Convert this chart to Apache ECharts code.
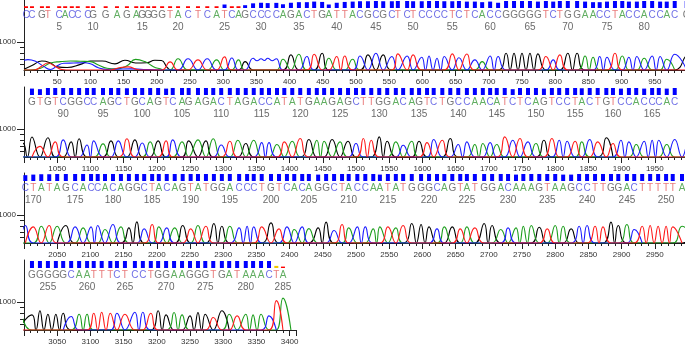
<!DOCTYPE html>
<html><head><meta charset="utf-8">
<script src="https://cdn.jsdelivr.net/npm/echarts@6/dist/echarts.min.js"></script>
<style>html,body{margin:0;padding:0;background:#fff}#c{width:685px;height:345px}</style>
</head><body><div id="c"></div>
<script>
// ---------- DATA ----------
const sequence = [
  "CCGTCACCCG","GAGAGGGGTA","CTCATCAGCC","CCAGACTGAT","TACGCGCTCT","CCCCTCTCAC","CGGGGGTCTG","GAACCTACCA","CCACG",
  "GTGTC","GGCCAGCTGC","AGTCAGAGAC","TAGACCATAT","GAAGAGCTTG","GACAGTCTGC","CAACATCTCA","GTCCTACTGT","CCACCCAC",
  "CT","ATAGCACCAC","AGGCTACAGT","ATGGACCCTG","TCACAGGCTA","CCAATATGGG","CAGTATGGAC","AAAGTAAGCC","TTGGACTTTT","TA",
  "GGGGGCAA","TTTCTCCTGG","AAGGGTGATA","AACTA"
].join("");

// scan position of each called base (peak centre)
const peakScan = [
  3,12,27,36,53,62,72,81,96,104, 123,140,155,169,178,187,196,208,220,232,
  247,262,276,290,302,313,323,333,345,357, 367,380,390,402,414,426,437,449,459,471,
  483,495,506,518,530,541,554,563,577,586, 599,610,622,633,645,655,667,679,690,702,
  714,726,738,750,762,774,786,797,807,819, 833,845,857,867,878,890,901,911,923,934,
  946,958,968,980,998,
  1012,1024,1036,1047,1059,1071,1083,1095,1105,1119, 1131,1142,1155,1167,1178,1190,1202,1214,1224,1238,
  1248,1262,1274,1285,1297,1310,1322,1334,1346,1358, 1369,1381,1392,1404,1416,1429,1441,1452,1464,1476,
  1488,1500,1511,1523,1535,1547,1560,1571,1584,1595, 1607,1617,1630,1642,1654,1667,1679,1691,1702,1712,
  1724,1736,1747,1759,1771,1783,1795,1806,1818,1830, 1840,1852,1864,1877,1887,1899,1911,1922,1934,1946,
  1956,1968,1980,
  2002,2014, 2026,2038,2050,2063,2077,2089,2101,2111,2122,2134, 2146,2158,2170,2181,2193,2203,2215,2227,2239,2251,
  2262,2274,2286,2298,2310,2324,2336,2346,2358,2372, 2384,2396,2407,2419,2429,2443,2455,2467,2479,2489,
  2502,2514,2526,2536,2548,2560,2571,2584,2598,2610, 2622,2633,2645,2657,2667,2679,2693,2705,2718,2729,
  2741,2752,2764,2776,2788,2800,2812,2824,2836,2848, 2860,2872,2884,2895,2908,2919,2931,2943,2955,2967,
  2977,2991,
  3012,3024,3036,3048,3059,3071,3083,3095, 3105,3117,3130,3140,3152,3167,3179,3191,3202,3214,
  3226,3238,3250,3262,3273,3285,3298,3309,3321,3334, 3345,3357,3369,3380,3390
];

// peak height of each base (signal units); null = drawn from the early (noisy) traces
const peakHeight = [
  null,null,null,null,null,null,null,null,null,null, null,null,null,null,null,null,null,null,290,400,
  400,360,400,360,470,430,360,300,420,400, 420,400,385,540,565,480,565,600,420,480,
  500,385,500,540,600,540,480,575,500,540, 455,500,420,480,575,440,570,360,300,500,
  480,600,600,600,600,575,480,360,540,600, 600,500,455,480,455,600,500,455,480,420,
  500,480,385,565,500,
  715,380,690,540,610,540,650,430,575,470, 575,575,650,610,500,540,575,575,610,540,
  575,610,575,650,430,560,600,480,600,515, 515,445,540,565,660,625,600,565,625,540,
  565,480,660,600,720,565,540,420,565,565, 515,625,600,660,445,540,445,480,515,445,
  720,600,660,540,480,600,660,600,565,565, 540,625,540,685,480,600,540,445,565,600,
  600,445,625,
  625,575, 600,625,600,625,575,540,575,625,480,660, 575,540,755,505,660,575,540,540,625,505,
  625,600,695,600,600,540,600,575,575,720, 505,575,480,575,515,540,745,445,660,540,
  575,575,505,575,575,540,625,695,660,575, 505,575,575,505,575,540,695,625,480,540,
  540,600,625,565,505,625,600,505,600,625, 600,575,745,625,660,480,600,625,600,600,
  575,600,
  540,685,565,565,600,480,565,565, 600,635,600,600,565,635,635,600,685,540,
  625,540,505,625,565,445,685,565,505,565, 540,565,505,1050,1140
];

// quality value of each base
const quality = [
  15,15,15,15,15,15,15,15,15,15, 15,15,15,15,15,15,15,15,15,15,
  15,15,15,15,30,15,15,24,40,45, 42,44,32,45,50,50,55,52,30,45,
  52,55,58,58,60,58,58,60,60,58, 58,60,60,58,58,60,55,55,50,55,
  45,60,60,60,60,55,60,55,60,60, 60,55,50,50,55,60,60,55,55,60,
  60,55,55,60,60,
  55,50,60,60,60,60,60,60,60,60, 60,60,58,60,60,60,60,55,60,60,
  60,60,60,60,60,60,60,60,60,60, 60,60,60,60,60,60,60,60,60,60,
  60,60,60,60,60,60,60,60,60,60, 60,60,60,60,60,60,60,60,60,60,
  60,50,60,60,60,55,60,60,60,60, 58,60,60,60,60,55,60,60,55,60,
  60,55,60,
  50,55, 58,58,60,60,60,60,60,60,60,60, 60,60,60,60,60,60,60,60,60,60,
  60,60,60,60,60,60,60,60,60,60, 60,60,60,60,60,55,60,60,60,60,
  60,60,60,55,60,60,60,60,60,60, 60,60,60,60,60,60,60,60,60,60,
  55,60,60,60,60,60,55,55,60,60, 60,60,60,60,60,60,60,60,60,60,
  60,60,
  60,60,60,60,60,60,60,60, 60,60,60,60,60,60,60,60,60,60,
  60,60,60,60,60,60,60,60,60,60, 60,60,60,18,12
];

// trace level between two adjacent same-colour peaks (key = base number of the second peak)
const valleyBefore = {30: 330, 31: 340, 32: 330};

// early, poorly resolved part of the read: [scan, signal]
const earlyA = [[0,0],[10,0],[25,60],[40,250],[55,300],[70,320],[85,310],[100,300],[112,180],[125,60],[138,40],[155,150],[168,380],[182,300],[195,120],[205,40],[212,0]];
const earlyC = [[0,350],[6,370],[18,300],[30,120],[40,20],[50,150],[60,240],[75,250],[90,260],[100,220],[112,80],[125,20],[140,30],[160,40],[180,20],[200,10],[210,0]];
const earlyG = [[0,30],[12,160],[27,320],[40,250],[50,110],[65,90],[85,200],[100,320],[118,320],[137,220],[152,350],[168,250],[185,260],[197,350],[207,340],[216,80],[222,0]];
const earlyT = [[0,0],[15,0],[27,140],[36,250],[46,140],[57,20],[70,0],[130,0],[145,90],[157,110],[170,20],[180,0]];

const rowRanges = [[0,1000],[1000,2000],[2000,3000],[3000,3410]];
const yLabelValue = 1000;
const yTickValues = [1000];
const yMinorTickValues = [200,400,600,800];

// ---------- STYLE / LAYOUT ----------
const traceColor = {G:'#000000', A:'#1c9e1c', C:'#1a1aff', T:'#ff1a1a'};
const letterColor = {G:'#555555', A:'#3a9a3a', C:'#4a4ae0', T:'#e45a5a'};
const baselines = [70, 157, 243, 330];
const pxPerScan = 0.664;
const FONT = 'Liberation Sans, Arial, sans-serif';

const early = {A: earlyA, C: earlyC, G: earlyG, T: earlyT};
function buildTrace(ch){
  const n = sequence.length;
  const has = i => i >= 0 && i < n && sequence[i] === ch && peakHeight[i] != null;
  const pts = early[ch].map(p => p.slice());
  for (let i = 0; i < n; i++) {
    if (!has(i)) continue;
    if (!has(i - 1)) pts.push([i > 0 ? peakScan[i - 1] : peakScan[i] - 12, 0]);
    pts.push([peakScan[i], peakHeight[i]]);
    if (has(i + 1)) pts.push([(peakScan[i] + peakScan[i + 1]) / 2, valleyBefore[i + 2] || 0]);
    else pts.push([i < n - 1 ? peakScan[i + 1] : peakScan[i] + 12, 0]);
  }
  pts.sort((a, b) => a[0] - b[0]);
  const out = [];
  for (const p of pts) {
    const last = out[out.length - 1];
    if (last && last[0] === p[0]) last[1] = Math.max(last[1], p[1]);
    else out.push(p);
  }
  return out;
}
const traces = {};
['G','A','C','T'].forEach(ch => traces[ch] = buildTrace(ch));

const grid = [], xAxis = [], yAxis = [], series = [];
rowRanges.forEach((rg, r) => {
  const [lo, hi] = rg;
  const B = baselines[r];
  const W = (hi - lo) * pxPerScan;
  const g0 = grid.length;
  const gb = {outerBoundsMode: 'none', containLabel: false};
  grid.push(Object.assign({left: 24, top: B - 70, width: W, height: 70}, gb));   // traces
  grid.push(Object.assign({left: 24, top: B - 69, width: W, height: 7}, gb));    // quality
  grid.push(Object.assign({left: 24, top: B - 55, width: W, height: 12}, gb));   // letters / numbers
  const x0 = xAxis.length;
  xAxis.push({gridIndex: g0, type: 'value', min: lo, max: hi, interval: 10, position: 'bottom',
    axisLine: {show: true, lineStyle: {color: '#222', width: 1}},
    axisTick: {show: true, length: 3, lineStyle: {color: '#222'}},
    axisLabel: {show: true, fontSize: 8, color: '#333', margin: 8, fontFamily: FONT,
      formatter: v => (v % 50 === 0 && v !== lo && !(v === hi && r < 3)) ? String(v) : ''},
    splitLine: {show: false}});
  xAxis.push({gridIndex: g0, type: 'value', min: lo, max: hi, interval: 50, position: 'bottom',
    axisLine: {show: false}, axisTick: {show: true, length: 6, lineStyle: {color: '#222'}},
    axisLabel: {show: false}, splitLine: {show: false}});
  xAxis.push({gridIndex: g0 + 1, type: 'value', min: lo, max: hi, show: false});
  xAxis.push({gridIndex: g0 + 2, type: 'value', min: lo, max: hi, show: false});
  const y0 = yAxis.length;
  yAxis.push({gridIndex: g0, type: 'value', min: 0, max: 2500, position: 'left',
    axisLine: {show: true, lineStyle: {color: '#222'}},
    axisTick: {show: true, length: 7, customValues: yTickValues, lineStyle: {color: '#222'}},
    axisLabel: {show: false}, splitLine: {show: false}});
  yAxis.push({gridIndex: g0, type: 'value', min: 0, max: 2500, position: 'left',
    axisLine: {show: false},
    axisTick: {show: true, length: 4, customValues: yMinorTickValues, lineStyle: {color: '#222'}},
    axisLabel: {show: false}, splitLine: {show: false}});
  yAxis.push({gridIndex: g0, type: 'value', min: 0, max: 2500, interval: 500, position: 'left',
    axisLine: {show: false}, axisTick: {show: false}, splitLine: {show: false},
    axisLabel: {show: true, fontSize: 8, color: '#333', margin: 8, fontFamily: FONT,
      formatter: v => v === yLabelValue ? String(v) : ''}});
  yAxis.push({gridIndex: g0 + 1, type: 'value', min: 0, max: 60, show: false});
  yAxis.push({gridIndex: g0 + 2, type: 'value', min: 0, max: 1, show: false});

  ['G','A','C','T'].forEach(ch => {
    series.push({type: 'line', xAxisIndex: x0, yAxisIndex: y0, smooth: 0.5, showSymbol: false, clip: true,
      silent: true, lineStyle: {color: traceColor[ch], width: 1.1}, itemStyle: {color: traceColor[ch]},
      data: traces[ch].filter(p => p[0] >= lo - 40 && p[0] <= hi + 40)});
  });

  const qData = [], letters = [], numbers = [];
  for (let i = 0; i < sequence.length; i++) {
    const s = peakScan[i];
    if (s < lo || s >= hi) continue;
    const q = quality[i];
    qData.push({value: [s, q], itemStyle: {color: q < 17 ? '#ff0000' : (q < 20 ? '#f0c800' : '#0000ff')}});
    letters.push({name: sequence[i], value: [s, 1], label: {color: letterColor[sequence[i]]}});
    // numbers that would run off the right edge are not drawn
    if ((i + 1) % 5 === 0 && s <= hi - 12) numbers.push({name: String(i + 1), value: [s, 0]});
  }
  series.push({type: 'bar', xAxisIndex: x0 + 2, yAxisIndex: y0 + 3, barWidth: 4, silent: true, data: qData});
  series.push({type: 'scatter', xAxisIndex: x0 + 3, yAxisIndex: y0 + 4, symbolSize: 1, clip: false, silent: true,
    itemStyle: {color: 'rgba(0,0,0,0)'},
    label: {show: true, position: 'inside', formatter: '{b}', fontSize: 10, fontFamily: FONT}, data: letters});
  series.push({type: 'scatter', xAxisIndex: x0 + 3, yAxisIndex: y0 + 4, symbolSize: 1, clip: false, silent: true,
    itemStyle: {color: 'rgba(0,0,0,0)'},
    label: {show: true, position: 'inside', formatter: '{b}', fontSize: 10, color: '#444', fontFamily: FONT}, data: numbers});
});

const chart = echarts.init(document.getElementById('c'), null, {renderer: 'canvas'});
chart.setOption({animation: false, backgroundColor: '#fff', grid, xAxis, yAxis, series});
</script></body></html>
